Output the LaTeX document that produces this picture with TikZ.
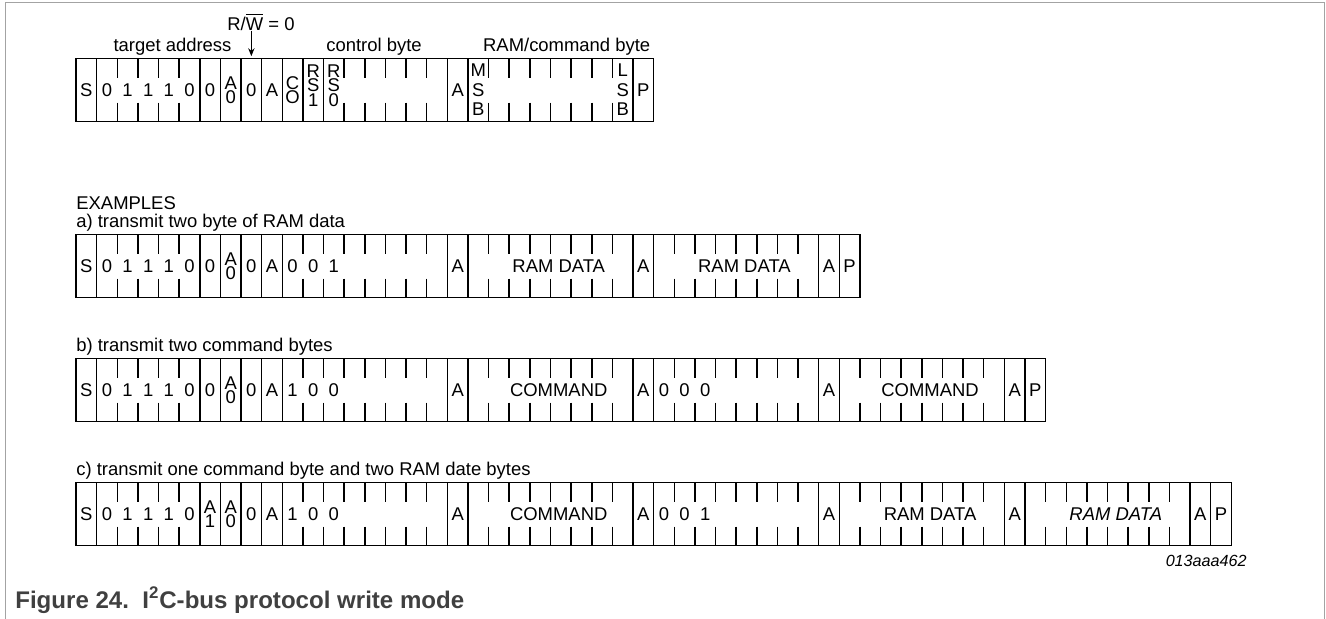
\documentclass[tikz,border=0pt]{standalone}
\usepackage{fontspec}
\setmainfont{Liberation Sans}
\usepackage{tikz}
\usetikzlibrary{arrows.meta,calc}
\definecolor{capgray}{HTML}{404040}
\definecolor{edgegray}{HTML}{A3A3A3}
\tikzset{
  bit/.style={inner sep=0pt, minimum width=4.126mm, minimum height=12.6mm,
              font={\fontsize{10.5}{12.6}\selectfont}},
  pair/.style={bit, align=center, font={\fontsize{10.5}{8.1}\selectfont\lineskiplimit=-5pt}},
  triple/.style={pair, yshift=2.5pt},
  spread/.style={bit, align=center, font={\fontsize{10.5}{11.1}\selectfont\lineskiplimit=-5pt}},
  lbl/.style={inner sep=0pt, font={\fontsize{10.5}{12.6}\selectfont}},
  regline/.style={line width=0.85pt},
  arr/.style={-{Stealth[length=4.5pt, width=3.6pt]}, line width=0.6pt},
}

\begin{document}
\begin{tikzpicture}[x=0.02cm, y=-0.02cm]
  \useasboundingbox (0,0) rectangle (1326,619);
  \def\cellw{20.63}
  % page frame
  \draw[edgegray, line width=0.6pt] (5.5,619) -- (5.5,2.5) -- (1324.5,2.5) -- (1324.5,619);

  % write mode format
  \node[lbl, anchor=base] (rw) at (261,30) {R/$\overline{\mbox{W}}$ = 0};
  \node[lbl, anchor=base] (hdr-addr) at (172.5,51.5) {target address};
  \node[lbl, anchor=base] (hdr-ctrl) at (374,51.5) {control byte};
  \node[lbl, anchor=base] (hdr-data) at (566.7,51.5) {RAM/command byte};
  \draw[regline] (76,58.5) rectangle ++({28*\cellw},63);
  \foreach \k in {1,6,7,8,9,10,11,12,18,19,27}
    \draw[regline] ({76+\k*\cellw},58.5) -- ++(0,63);
  \foreach \k in {2,3,4,5,13,14,15,16,17,20,21,22,23,24,25,26}
    \draw[regline] ({76+\k*\cellw},58.5) -- ++(0,19) ++(0,25) -- ++(0,19);
  \foreach \i/\s/\t in {0/bit/S, 1/bit/0, 2/bit/1, 3/bit/1, 4/bit/1, 5/bit/0, 6/bit/0,
      7/pair/A\\0, 8/bit/0, 9/bit/A, 10/pair/C\\O, 11/triple/R\\S\\1, 12/triple/R\\S\\0,
      18/bit/A, 19/spread/M\\S\\B, 26/spread/L\\S\\B, 27/bit/P}
    \node[\s] (t\i) at ({76+(\i+0.5)*\cellw},90) {\t};
  \draw[arr] (rw.south -| t8.north) -- ($(t8.north)+(0,-2)$);

  % examples
  \node[lbl, anchor=base west] (examples) at (76,209) {EXAMPLES};
  \node[lbl, anchor=base west] (ex-a) at (76,227.5) {a) transmit two byte of RAM data};
  \node[lbl, anchor=base west] (ex-b) at (76,351.5) {b) transmit two command bytes};
  \node[lbl, anchor=base west] (ex-c) at (76,475.5) {c) transmit one command byte and two RAM date bytes};

  \foreach \T/\nb in {234.5/3, 358.5/4, 482.5/5} {
    \draw[regline] (76,\T) rectangle ++({(11+9*\nb)*\cellw},63);
    \foreach \k in {1,6,7,8,9,10}
      \draw[regline] ({76+\k*\cellw},\T) -- ++(0,63);
    \foreach \k in {2,...,5}
      \draw[regline] ({76+\k*\cellw},\T) -- ++(0,19) ++(0,25) -- ++(0,19);
    \foreach \m in {1,...,\nb} {
      \foreach \k in {2,...,8}
        \draw[regline] ({76+(9*\m+\k)*\cellw},\T) -- ++(0,19) ++(0,25) -- ++(0,19);
      \draw[regline] ({76+(9*\m+9)*\cellw},\T) -- ++(0,63);
      \draw[regline] ({76+(9*\m+10)*\cellw},\T) -- ++(0,63);
    }
  }

  % a) two RAM data bytes
  \foreach \i/\s/\t in {0/bit/S, 1/bit/0, 2/bit/1, 3/bit/1, 4/bit/1, 5/bit/0, 6/bit/0,
      7/pair/A\\0, 8/bit/0, 9/bit/A, 10/bit/0, 11/bit/0, 12/bit/1,
      18/bit/A, 27/bit/A, 36/bit/A, 37/bit/P}
    \node[\s] (a\i) at ({76+(\i+0.5)*\cellw},266) {\t};
  \node[lbl] (a-data1) at ({76+23.4*\cellw},266) {RAM DATA};
  \node[lbl] (a-data2) at ({76+32.4*\cellw},266) {RAM DATA};

  % b) two command bytes
  \foreach \i/\s/\t in {0/bit/S, 1/bit/0, 2/bit/1, 3/bit/1, 4/bit/1, 5/bit/0, 6/bit/0,
      7/pair/A\\0, 8/bit/0, 9/bit/A, 10/bit/1, 11/bit/0, 12/bit/0,
      18/bit/A, 27/bit/A, 28/bit/0, 29/bit/0, 30/bit/0, 36/bit/A, 45/bit/A, 46/bit/P}
    \node[\s] (b\i) at ({76+(\i+0.5)*\cellw},390) {\t};
  \node[lbl] (b-cmd1) at ({76+23.4*\cellw},390) {COMMAND};
  \node[lbl] (b-cmd2) at ({76+41.4*\cellw},390) {COMMAND};

  % c) one command byte, two RAM data bytes
  \foreach \i/\s/\t in {0/bit/S, 1/bit/0, 2/bit/1, 3/bit/1, 4/bit/1, 5/bit/0,
      6/pair/A\\1, 7/pair/A\\0, 8/bit/0, 9/bit/A, 10/bit/1, 11/bit/0, 12/bit/0,
      18/bit/A, 27/bit/A, 28/bit/0, 29/bit/0, 30/bit/1, 36/bit/A, 45/bit/A, 54/bit/A, 55/bit/P}
    \node[\s] (c\i) at ({76+(\i+0.5)*\cellw},514) {\t};
  \node[lbl] (c-cmd) at ({76+23.4*\cellw},514) {COMMAND};
  \node[lbl] (c-data1) at ({76+41.4*\cellw},514) {RAM DATA};
  \node[lbl] (c-data2) at ({76+50.4*\cellw},514) {\itshape RAM DATA};

  \node[inner sep=0pt, anchor=base east, font={\fontsize{9.2}{11}\selectfont\itshape}] (fig-id) at (1247,566) {013aaa462};
  \node[inner sep=0pt, anchor=base west, text=capgray, font={\fontsize{13.7}{16}\selectfont\bfseries}] (caption) at (15,608)
    {Figure 24.\ \ I\textsuperscript{2}C-bus protocol write mode};
\end{tikzpicture}
\end{document}
